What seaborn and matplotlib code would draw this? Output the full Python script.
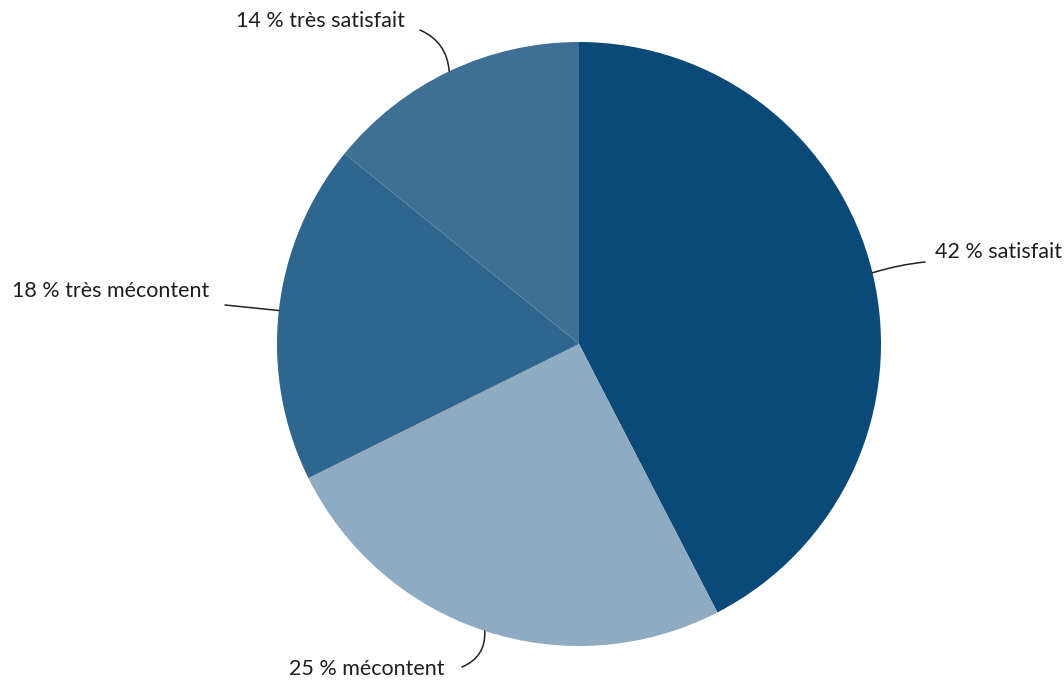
import matplotlib
matplotlib.use("Agg")
import matplotlib.pyplot as plt
import seaborn as sns
import numpy as np

categories = ["satisfait", "mécontent", "très mécontent", "très satisfait"]
values = [42, 25, 18, 14]
labels = ["42 % satisfait", "25 % mécontent", "18 % très mécontent", "14 % très satisfait"]
colors = ["#0b4a78", "#8eabc1", "#2e6690", "#3e6f94"]

sns.set_theme(style="white")
plt.rcParams["font.family"] = ["Lato", "DejaVu Sans"]

W, H = 1064, 682
fig = plt.figure(figsize=(W / 100, H / 100), dpi=100)
cx, cy, r = 579, 344, 302
ax = fig.add_axes([(cx - r) / W, (H - cy - r) / H, 2 * r / W, 2 * r / H])
wedges, _ = ax.pie(values, colors=colors, startangle=90, counterclock=False,
                   radius=1.0, wedgeprops=dict(linewidth=0))
ax.set_xlim(-1, 1)
ax.set_ylim(-1, 1)
ax.set_aspect("equal")
ax.axis("off")

def px(x, y):
    return ((x - cx) / r, (cy - y) / r)

# label layout: (text position px, ha, line end px, curvature)
layout = [
    ((935, 252), "left", (925, 262), 0.05),
    ((289, 669), "left", (462, 667), 0.35),
    ((12, 291), "left", (225, 305), 0.0),
    ((236, 21), "left", (420, 30), -0.3),
]

for w, lab, (tp, ha, lp, rad) in zip(wedges, labels, layout):
    ang = np.deg2rad((w.theta1 + w.theta2) / 2)
    anchor = (np.cos(ang), np.sin(ang))
    ax.annotate("", xy=anchor, xytext=px(*lp), xycoords="data", textcoords="data",
                arrowprops=dict(arrowstyle="-", color="#222222", lw=1.1,
                                shrinkA=0, shrinkB=0,
                                connectionstyle=f"arc3,rad={rad}"),
                annotation_clip=False)
    ax.text(*px(*tp), lab, ha=ha, va="center", fontsize=15.5, color="#1e1e1e",
            clip_on=False)

fig.savefig("out.png", dpi=100, facecolor="white")
